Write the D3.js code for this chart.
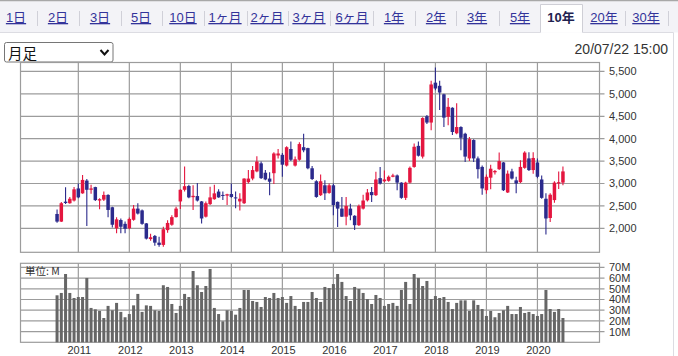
<!DOCTYPE html>
<html><head><meta charset="utf-8">
<script src="https://cdn.jsdelivr.net/npm/d3@7"></script>
<style>body{margin:0;background:#fff;} svg{display:block;}</style>
</head><body><svg id="c" width="678" height="356"></svg>
<script>
// ---------- DATA ----------
const months = [
 "2010-08","2010-09","2010-10","2010-11","2010-12",
 "2011-01","2011-02","2011-03","2011-04","2011-05","2011-06","2011-07","2011-08","2011-09","2011-10","2011-11","2011-12",
 "2012-01","2012-02","2012-03","2012-04","2012-05","2012-06","2012-07","2012-08","2012-09","2012-10","2012-11","2012-12",
 "2013-01","2013-02","2013-03","2013-04","2013-05","2013-06","2013-07","2013-08","2013-09","2013-10","2013-11","2013-12",
 "2014-01","2014-02","2014-03","2014-04","2014-05","2014-06","2014-07","2014-08","2014-09","2014-10","2014-11","2014-12",
 "2015-01","2015-02","2015-03","2015-04","2015-05","2015-06","2015-07","2015-08","2015-09","2015-10","2015-11","2015-12",
 "2016-01","2016-02","2016-03","2016-04","2016-05","2016-06","2016-07","2016-08","2016-09","2016-10","2016-11","2016-12",
 "2017-01","2017-02","2017-03","2017-04","2017-05","2017-06","2017-07","2017-08","2017-09","2017-10","2017-11","2017-12",
 "2018-01","2018-02","2018-03","2018-04","2018-05","2018-06","2018-07","2018-08","2018-09","2018-10","2018-11","2018-12",
 "2019-01","2019-02","2019-03","2019-04","2019-05","2019-06","2019-07","2019-08","2019-09","2019-10","2019-11","2019-12",
 "2020-01","2020-02","2020-03","2020-04","2020-05","2020-06","2020-07"];
const open = [2320,2150,2595,2560,2620, 2890,2780,3065,2860,2920,2620,2640,2745,2470,2000,2185,2100,
 2000,2190,2440,2400,2110,1760,1830,1680,1630,1960,2080,2250,
 2600,2860,2945,2695,2720,2600,2260,2540,2650,2820,2745,2730,
 2765,2690,2600,2560,3030,3110,3270,3450,3240,3110,3230,3625,
 3640,3400,3770,3400,3530,3810,3790,3340,3050,2740,2960,2790,
 2960,2590,2440,2260,2440,2280,2070,2440,2625,2810,2740,3120,
 3050,3060,3150,3180,3020,2680,3020,3370,3840,3600,4500,4360,
 5250,5180,4990,4490,4690,4120,4260,4110,3560,3970,3560,3370,
 2850,3130,3250,3320,3470,2800,3270,3070,3030,3350,3560,3300,
 3470,3090,2660,2230,2630,3000,3020];
const high = [2420,2590,2915,2700,2920, 3000,3190,3100,2970,2930,2670,2820,2760,2480,2245,2220,2150,
 2240,2520,2560,2420,2120,1880,1850,1810,2035,2180,2290,2480,
 2870,3380,2970,2960,3010,2610,2600,2930,2970,2870,2820,2770,
 3000,2820,2780,3120,3300,3390,3610,3490,3300,3250,3700,3770,
 3680,3830,3940,3600,3920,4110,3800,3390,3070,3200,3070,3000,
 3000,2600,2700,2700,2550,2290,2530,2750,2880,2920,3260,3370,
 3290,3180,3220,3200,3030,3040,3380,3890,3940,4480,4530,5290,
 5590,5290,5000,4910,4700,4790,4280,4130,4040,3990,3600,3400,
 3200,3420,3300,3690,3480,3290,3330,3150,3520,3720,3700,3700,
 3560,3180,2780,2780,3050,3270,3380];
const low = [2125,2140,2545,2550,2600, 2670,2770,2050,2770,2610,2425,2610,2245,2020,1890,1890,1890,
 1980,2170,2310,2080,1750,1720,1610,1590,1590,1900,2060,2240,
 2430,2820,2670,2410,2600,2110,2240,2520,2640,2680,2630,2520,
 2680,2450,2400,2540,3000,3070,3250,3100,3070,2740,2990,3560,
 3150,3380,3500,3380,3510,3700,3320,3080,2680,2720,2630,2770,
 2290,2030,2250,2070,2180,1960,2050,2420,2600,2590,2720,2980,
 3030,3040,3140,2850,2660,2630,3000,3350,3600,3560,4330,4190,
 5080,4640,4260,4300,4080,4100,3740,3480,3500,3480,3110,2750,
 2770,2870,3200,3300,2830,2790,3090,2780,3010,3330,3280,3220,
 3120,2660,1860,2140,2570,2880,2960];
const close = [2150,2560,2565,2660,2870, 2690,3080,2860,2890,2630,2650,2745,2410,2080,2200,2035,1990,
 2210,2440,2330,2100,1770,1800,1680,1630,1980,2120,2250,2440,
 2860,2940,2690,2725,2620,2220,2560,2690,2780,2690,2725,2760,
 2700,2670,2660,3110,3110,3300,3490,3120,3090,3040,3670,3670,
 3420,3810,3530,3540,3880,3740,3340,3100,2700,3050,2780,2960,
 2520,2440,2260,2500,2290,2070,2500,2620,2800,2740,3090,3000,
 3090,3150,3180,3020,2680,3020,3350,3820,3620,4460,4360,5210,
 5120,5030,4470,4710,4150,4260,4020,3600,3990,3560,3320,2890,
 3150,3330,3280,3500,2850,3220,3110,3000,3370,3690,3300,3570,
 3150,2680,2220,2750,3020,3030,3270];
const volume = [43.9,46.1,63.8,46.1,41.4, 42.3,42.3,60.1,32.1,30.8,29.3,22.7,34.0,29.9,36.8,28.4,23.4,
 26.4,34.5,45.2,28.4,34.5,34.0,29.9,29.3,53.3,51.7,35.8,27.4,
 34.0,45.2,42.3,66.6,53.3,47.0,52.6,68.5,32.1,26.4,19.6,29.9,
 29.3,25.8,32.1,48.9,48.9,38.6,37.7,33.0,42.3,41.4,46.1,41.4,
 42.3,36.8,43.2,34.0,31.1,37.7,37.7,47.0,41.4,37.7,51.7,50.7,
 54.4,63.8,56.4,43.2,38.6,51.7,49.8,46.1,40.4,35.8,44.2,41.4,
 34.0,35.8,36.8,34.0,48.9,56.4,35.8,63.8,60.1,52.6,57.3,40.4,
 43.2,41.4,42.3,37.7,31.1,36.8,39.2,39.2,29.3,39.2,34.9,31.1,
 24.6,29.3,23.4,27.4,29.9,34.0,26.4,26.4,33.0,27.4,28.4,26.4,
 24.6,26.4,48.9,31.1,28.4,31.1,22.7];
const yearLabels = ["2011","2012","2013","2014","2015","2016","2017","2018","2019","2020"];
const priceTicks = [2000,2500,3000,3500,4000,4500,5000,5500];
const volumeTicks = [10,20,30,40,50,60,70];
const tabLabels = ["1日","2日","3日","5日","10日","1ヶ月","2ヶ月","3ヶ月","6ヶ月","1年","2年","3年","5年","10年","20年","30年"];
const selectedTab = "10年";
const periodLabel = "月足";
const timestamp = "20/07/22 15:00";
const unitLabel = "単位: M";

// ---------- LAYOUT ----------
const svg = d3.select("#c");
const W = 678, H = 356;
const L = 20.5, R = 599.5;
const pTop = 62.5, pBot = 252.3;
const vTop = 263.3, vBot = 342.3;
const RED = "#e4163f", BLUE = "#2b2a8c", GRID = "#9c9c9c", TXT = "#333";
const numFont = "'Liberation Sans', Arial, sans-serif";
const jpFont = "'Liberation Sans', 'Noto Sans CJK JP', sans-serif";

const x = d3.scaleLinear().domain([-8.6, 127.6]).range([L, R]);
const xi = m => x(months.indexOf(m));
const yP = d3.scaleLinear().domain([1465, 5700]).range([pBot, pTop]);
const yV = d3.scaleLinear().domain([0, 73.8]).range([vBot, vTop]);

// tab bar
svg.append("rect").attr("x",0).attr("y",0).attr("width",W).attr("height",32.5).attr("fill","#f3f3f7");
svg.append("line").attr("x1",0).attr("x2",W).attr("y1",0.5).attr("y2",0.5).attr("stroke","#a8a8a8").attr("stroke-width",1.5);
const tabCx = [16,58,100,141,183,225,267,309,352,394,436,477,520,561,604,646];
const sepX = [37,79,121,162,204,247,288,330,373,415,456,499,625,668];
svg.append("g").selectAll("line").data(sepX).join("line")
  .attr("x1",d=>d+0.5).attr("x2",d=>d+0.5).attr("y1",11).attr("y2",26).attr("stroke","#d0d0d8");
// selected tab
svg.append("path").attr("d","M540.5,32.5V4.5H582.5V32.5").attr("fill","#fff").attr("stroke","#cfcfd6");
svg.append("line").attr("x1",0).attr("x2",540.5).attr("y1",32.5).attr("y2",32.5).attr("stroke","#dcdce2");
svg.append("line").attr("x1",582.5).attr("x2",673.5).attr("y1",32.5).attr("y2",32.5).attr("stroke","#dcdce2");
svg.append("line").attr("x1",673.5).attr("x2",673.5).attr("y1",32.5).attr("y2",H).attr("stroke","#dcdce2");
svg.append("g").selectAll("text").data(tabLabels).join("text")
  .attr("x",(d,i)=>tabCx[i]).attr("y",22).attr("text-anchor","middle")
  .attr("font-family",jpFont).attr("font-size",13)
  .attr("font-weight",d=>d===selectedTab?"bold":"normal")
  .attr("fill",d=>d===selectedTab?"#222250":"#33339a")
  .attr("text-decoration",d=>d===selectedTab?"none":"underline")
  .text(d=>d);

// select box
svg.append("rect").attr("x",4.5).attr("y",42.5).attr("width",108.5).attr("height",19.5).attr("rx",2)
  .attr("fill","#fff").attr("stroke","#767676");
svg.append("text").attr("x",8).attr("y",58.5).attr("font-family","'Noto Sans CJK JP', sans-serif").attr("font-size",14.5)
  .attr("fill","#111").text(periodLabel);
svg.append("path").attr("d","M100.5,50L104.5,54.5L108.5,50").attr("fill","none").attr("stroke","#111").attr("stroke-width",2);

// timestamp
svg.append("text").attr("x",668).attr("y",54).attr("text-anchor","end").attr("font-family",numFont)
  .attr("font-size",14).attr("fill",TXT).text(timestamp);

// ---------- grids ----------
const yearX = yearLabels.map(y => xi(y + "-01"));
function grid(top, bot, ticks, yS) {
  const g = svg.append("g").attr("stroke",GRID).attr("stroke-width",1.2).attr("fill","none");
  g.append("rect").attr("x",L).attr("y",top).attr("width",R-L).attr("height",bot-top);
  g.selectAll(".h").data(ticks).join("line").attr("x1",L).attr("x2",R+5).attr("y1",d=>yS(d)).attr("y2",d=>yS(d));
  g.selectAll(".v").data(yearX).join("line").attr("x1",d=>d).attr("x2",d=>d).attr("y1",top).attr("y2",bot);
}
grid(pTop, pBot, priceTicks, yP);
grid(vTop, vBot, volumeTicks, yV);

// axis labels
svg.append("g").selectAll("text").data(priceTicks).join("text")
  .attr("x",609).attr("y",d=>yP(d)).attr("dy","0.36em").attr("font-family",numFont).attr("font-size",11)
  .attr("fill",TXT).text(d3.format(","));
svg.append("g").selectAll("text").data(volumeTicks).join("text")
  .attr("x",609).attr("y",d=>yV(d)).attr("dy","0.36em").attr("font-family",numFont).attr("font-size",11)
  .attr("fill",TXT).text(d=>d+"M");
svg.append("g").selectAll("text").data(yearLabels).join("text")
  .attr("x",(d,i)=>yearX[i]+1).attr("y",354).attr("text-anchor","middle").attr("font-family",numFont)
  .attr("font-size",11).attr("fill",TXT).text(d=>d);
svg.append("text").attr("x",25).attr("y",274.5).attr("font-family","'Noto Sans CJK JP', sans-serif")
  .attr("font-size",10.5).attr("fill",TXT).text(unitLabel);

// ---------- volume bars ----------
svg.append("g").selectAll("rect").data(months).join("rect")
  .attr("x",d=>xi(d)-1.5).attr("width",3)
  .attr("y",(d,i)=>yV(volume[i])).attr("height",(d,i)=>yV(0)-yV(volume[i]))
  .attr("fill","#666");

// ---------- candles ----------
const cg = svg.append("g").selectAll("g").data(months).join("g");
cg.append("line")
  .attr("x1",d=>xi(d)).attr("x2",d=>xi(d))
  .attr("y1",(d,i)=>yP(high[i])).attr("y2",(d,i)=>yP(low[i]))
  .attr("stroke",(d,i)=>close[i]>=open[i]?RED:BLUE).attr("stroke-width",1.1);
cg.append("rect")
  .attr("x",d=>xi(d)-1.75).attr("width",3.5)
  .attr("y",(d,i)=>yP(Math.max(open[i],close[i])))
  .attr("height",(d,i)=>Math.max(1,Math.abs(yP(open[i])-yP(close[i]))))
  .attr("fill",(d,i)=>close[i]>=open[i]?RED:BLUE);
</script></body></html>
